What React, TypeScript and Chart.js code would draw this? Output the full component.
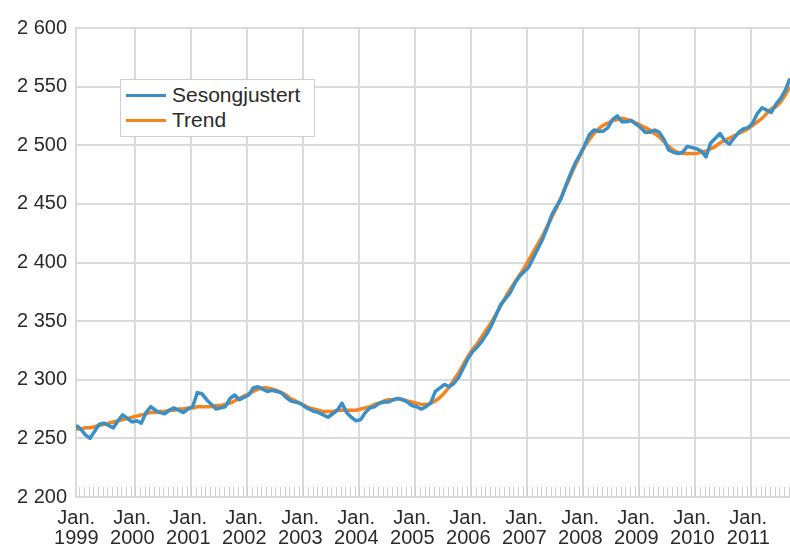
import React, { useEffect, useRef } from "react";
import { Chart, registerables } from "chart.js";

Chart.register(...registerables);

// Monthly values, Jan. 1999 – Oct. 2011
const sesongjustert: number[] = [
  2261, 2258, 2253, 2250, 2256, 2262, 2263, 2261, 2259, 2265, 2270, 2267,
  2264, 2265, 2263, 2272, 2277, 2274, 2272, 2271, 2274, 2276, 2274, 2272,
  2275, 2277, 2289, 2288, 2283, 2279, 2275, 2276, 2277, 2284, 2287, 2283,
  2285, 2287, 2293, 2294, 2292, 2290, 2291, 2290, 2289, 2285, 2282, 2281,
  2280, 2277, 2275, 2273, 2272, 2270, 2268, 2271, 2274, 2280, 2272, 2268,
  2265, 2266, 2272, 2276, 2277, 2280, 2281, 2281, 2283, 2284, 2283, 2281,
  2278, 2277, 2275, 2277, 2280, 2290, 2293, 2296, 2294, 2297, 2302, 2310,
  2318, 2324, 2328, 2333, 2339, 2346, 2355, 2364, 2369, 2374, 2382, 2388,
  2392, 2396, 2404, 2412, 2420, 2430, 2441, 2448, 2455, 2466, 2476, 2485,
  2492, 2500, 2509, 2513, 2512, 2512, 2515, 2522, 2525, 2520, 2520, 2521,
  2518, 2515, 2511, 2511, 2513, 2511, 2505, 2496, 2494, 2493, 2494, 2499,
  2498, 2497, 2495, 2490, 2502, 2506, 2510, 2504, 2501, 2506, 2511, 2514,
  2515, 2519, 2527, 2532, 2530, 2528, 2535, 2540, 2547, 2557,
];

const trend: number[] = [
  2258, 2258, 2259, 2259, 2260, 2261, 2262, 2263, 2264, 2265, 2266, 2267,
  2268, 2269, 2270, 2271, 2272, 2272, 2273, 2273, 2274, 2274, 2275, 2275,
  2276, 2276, 2277, 2277, 2277, 2277, 2278, 2278, 2279, 2280, 2282, 2284,
  2286, 2288, 2290, 2292, 2293, 2293, 2292, 2291, 2289, 2287, 2284, 2282,
  2280, 2278, 2276, 2275, 2274, 2273, 2273, 2273, 2274, 2274, 2274, 2274,
  2274, 2275, 2276, 2277, 2279, 2280, 2282, 2283, 2283, 2284, 2283, 2282,
  2281, 2280, 2279, 2279, 2280, 2282, 2285, 2289, 2294, 2300, 2306, 2313,
  2320, 2326, 2331, 2337, 2343, 2349, 2356, 2363, 2370, 2377, 2383, 2389,
  2395, 2402, 2409, 2416, 2423, 2431, 2439, 2447, 2456, 2465, 2474, 2483,
  2491, 2499, 2505, 2510, 2514, 2517, 2519, 2521, 2522, 2523, 2522, 2521,
  2519, 2517, 2515, 2513, 2510, 2507, 2503, 2499, 2496, 2494, 2493, 2493,
  2493, 2493, 2494, 2495, 2497, 2499, 2502, 2504, 2506, 2508, 2510, 2512,
  2514, 2517, 2520, 2523, 2527, 2531, 2533, 2537, 2543, 2550,
];

const monthIndex: number[] = sesongjustert.map((_, i) => i);
const yearTickMonths: number[] = [0, 12, 24, 36, 48, 60, 72, 84, 96, 108, 120, 132, 144];
const xTickLabels: string[][] = [
  ["Jan.", "1999"], ["Jan.", "2000"], ["Jan.", "2001"], ["Jan.", "2002"],
  ["Jan.", "2003"], ["Jan.", "2004"], ["Jan.", "2005"], ["Jan.", "2006"],
  ["Jan.", "2007"], ["Jan.", "2008"], ["Jan.", "2009"], ["Jan.", "2010"],
  ["Jan.", "2011"],
];
const yTickValues: number[] = [2200, 2250, 2300, 2350, 2400, 2450, 2500, 2550, 2600];
const seriesNames: string[] = ["Sesongjustert", "Trend"];

const BLUE = "#3a8fc6";
const ORANGE = "#f5841f";
const GRID = "#dadada";
const TEXT = "#2a2a2a";
const FONT = "'Liberation Sans', Arial, sans-serif";
const GRID_SHIFT = 0.7;

const fmt = (v: number) => {
  const t = Math.floor(v / 1000);
  const r = String(v % 1000).padStart(3, "0");
  return `${t} ${r}`;
};

const minorTicks = {
  id: "minorTicks",
  beforeDatasetsDraw(chart: any) {
    const xs = chart.scales.x;
    const area = chart.chartArea;
    const ctx = chart.ctx;
    ctx.save();
    ctx.strokeStyle = "#cfcfcf";
    ctx.lineWidth = 1;
    ctx.beginPath();
    for (const m of monthIndex) {
      const px = Math.round(xs.getPixelForValue(m + GRID_SHIFT)) + 0.5;
      if (px > area.right) continue;
      ctx.moveTo(px, area.bottom - 10);
      ctx.lineTo(px, area.bottom);
    }
    ctx.stroke();
    ctx.restore();
  },
};

export default function App() {
  const ref = useRef<HTMLCanvasElement | null>(null);

  useEffect(() => {
    if (!ref.current) return;
    const chart = new Chart(ref.current, {
      type: "line",
      data: {
        datasets: [
          {
            label: seriesNames[0],
            data: monthIndex.map((m, i) => ({ x: m, y: sesongjustert[i] })),
            borderColor: BLUE,
            borderWidth: 3.5,
            pointRadius: 0,
            tension: 0,
            borderJoinStyle: "round",
            fill: false,
          },
          {
            label: seriesNames[1],
            data: monthIndex.map((m, i) => ({ x: m, y: trend[i] })),
            borderColor: ORANGE,
            borderWidth: 3.5,
            pointRadius: 0,
            tension: 0.3,
            fill: false,
          },
        ],
      },
      options: {
        animation: false,
        responsive: false,
        layout: { padding: { top: 28, right: 0, left: 0, bottom: 0 } },
        plugins: { legend: { display: false }, tooltip: { enabled: false } },
        scales: {
          x: {
            type: "linear",
            min: 0,
            max: monthIndex[monthIndex.length - 1],
            afterBuildTicks: (s: any) => {
              s.ticks = yearTickMonths.map((m) => ({ value: m + GRID_SHIFT }));
            },
            afterFit: (s: any) => {
              s.height = 51;
            },
            grid: {
              color: (c: any) => (c.index === 0 ? "rgba(0,0,0,0)" : GRID),
              lineWidth: 2,
              drawTicks: false,
            },
            border: { color: GRID, width: 2 },
            ticks: {
              autoSkip: false,
              maxRotation: 0,
              padding: 11,
              labelOffset: -3,
              color: TEXT,
              font: { family: FONT, size: 20, lineHeight: 1.0 },
              callback: (_v: any, i: number) => xTickLabels[i],
            },
          },
          y: {
            min: yTickValues[0],
            max: yTickValues[yTickValues.length - 1],
            afterBuildTicks: (s: any) => {
              s.ticks = yTickValues.map((v) => ({ value: v }));
            },
            afterFit: (s: any) => {
              s.width = 76;
            },
            grid: { color: GRID, lineWidth: 2, drawTicks: false },
            border: { color: GRID, width: 2 },
            ticks: {
              padding: 9,
              color: TEXT,
              font: { family: FONT, size: 20 },
              callback: (v: any) => fmt(Number(v)),
            },
          },
        },
      },
      plugins: [minorTicks],
    });
    return () => chart.destroy();
  }, []);

  const legendLine = (color: string) => ({
    position: "absolute" as const,
    left: 5,
    width: 40,
    height: 3,
    background: color,
  });

  return (
    <div style={{ position: "absolute", left: 0, top: 0, width: 790, height: 548, background: "#fff" }}>
      <canvas ref={ref} width={790} height={548} style={{ display: "block" }} />
      <div
        style={{
          position: "absolute",
          left: 120,
          top: 79,
          width: 193,
          height: 56,
          border: "1px solid #cfcfcf",
          background: "#fff",
          fontFamily: FONT,
          fontSize: 21,
          color: TEXT,
        }}
      >
        <div style={{ ...legendLine(BLUE), top: 14 }} />
        <div style={{ position: "absolute", left: 51, top: 3, lineHeight: "24px", whiteSpace: "nowrap" }}>
          {seriesNames[0]}
        </div>
        <div style={{ ...legendLine(ORANGE), top: 39 }} />
        <div style={{ position: "absolute", left: 51, top: 28, lineHeight: "24px", whiteSpace: "nowrap" }}>
          {seriesNames[1]}
        </div>
      </div>
    </div>
  );
}
